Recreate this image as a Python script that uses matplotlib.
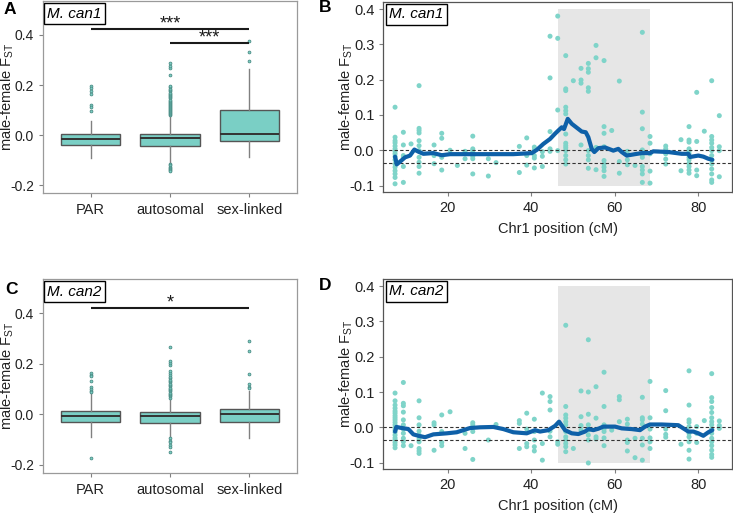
import numpy as np
import matplotlib
matplotlib.use("Agg")
import matplotlib.pyplot as plt
from matplotlib.patches import Rectangle

plt.rcParams["font.family"] = ["Liberation Sans", "DejaVu Sans"]
plt.rcParams["mathtext.default"] = "regular"

# ── colours ───────────────────────────────────────────────────────────────
BOX_FILL  = "#7acfc5"
BOX_EDGE  = "#555555"
WHISK_CLR = "#808080"
FLIER_EC  = "#4b8c85"
PT_CLR    = "#7fd4c9"
LINE_CLR  = "#0e60a8"
SHADE_CLR = "#e6e6e6"
TXT_CLR   = "#222222"

# ── box plot data (male-female Fst per class) ─────────────────────────────
categories = ["PAR", "autosomal", "sex-linked"]

can1_q1     = [-0.041, -0.042, -0.0225]
can1_med    = [-0.0146, -0.013, 0.003]
can1_q3     = [0.003, 0.004, 0.099]
can1_whislo = [-0.093, -0.111, -0.087]
can1_whishi = [0.058, 0.078, 0.265]
can1_fliers = [
    [0.196, 0.187, 0.177, 0.163, 0.120, 0.114, 0.097],
    [0.081, 0.085, 0.089, 0.093, 0.097, 0.101, 0.105, 0.109, 0.113, 0.117,
     0.121, 0.125, 0.130, 0.134, 0.138, 0.142, 0.147, 0.151, 0.155, 0.160,
     0.165, 0.170, 0.175, 0.180, 0.186, 0.192, 0.198, 0.240, 0.266, 0.277,
     0.286, -0.114, -0.120, -0.125, -0.130, -0.134, -0.139, -0.144],
    [0.376, 0.332, 0.295],
]

can2_q1     = [-0.032, -0.034, -0.029]
can2_med    = [-0.0066, -0.008, 0.0]
can2_q3     = [0.012, 0.008, 0.020]
can2_whislo = [-0.089, -0.093, -0.095]
can2_whishi = [0.083, 0.064, 0.094]
can2_fliers = [
    [0.162, 0.156, 0.150, 0.130, 0.108, 0.100, 0.092, 0.087, -0.171],
    [0.066, 0.071, 0.076, 0.081, 0.086, 0.091, 0.096, 0.101, 0.106, 0.111,
     0.116, 0.121, 0.126, 0.131, 0.136, 0.142, 0.148, 0.155, 0.162, 0.170,
     0.196, 0.203, 0.212, 0.266,
     -0.095, -0.105, -0.111, -0.122, -0.131, -0.148],
    [0.291, 0.249, 0.159, 0.119, 0.110, 0.103],
]

# significance brackets: (from, to, height, label)
can1_sig = [(1, 3, 0.425, "***"), (2, 3, 0.368, "***")]
can2_sig = [(1, 3, 0.421, "*")]

# ── Chr1 scan data: marker columns (cM) and Fst values per column ─────────
can1_pos = [7.38, 9.37, 11.21, 13.13, 16.72, 18.56, 20.55, 22.30, 24.14, 25.99,
            29.72, 31.56, 37.14, 38.91, 40.73, 42.65, 44.49, 46.33, 48.25, 50.07,
            51.91, 53.66, 55.50, 57.42, 59.26, 61.08, 63.00, 64.84, 66.59, 68.43,
            72.19, 75.85, 77.77, 79.61, 81.43, 83.20, 85.02]
can1_vals = [
    [0.122, 0.037, 0.027, 0.021, 0.012, 0.004, -0.003, -0.010, -0.018, -0.027,
     -0.039, -0.048, -0.058, -0.067, -0.077, -0.095],
    [0.051, 0.015, -0.015, -0.020, -0.046, -0.091],
    [0.018],
    [0.183, 0.062, 0.056, 0.049, 0.027, 0.013, -0.001, -0.020, -0.034, -0.046, -0.065],
    [0.015, -0.015, -0.038],
    [0.048, 0.034, -0.020, -0.056],
    [0.0],
    [-0.043],
    [-0.003, -0.024],
    [0.040, 0.004, -0.001, -0.008, -0.017, -0.024, -0.067],
    [-0.024, -0.073],
    [-0.035],
    [0.011, -0.063],
    [0.035, -0.015, -0.042],
    [0.009, 0.002, -0.015, -0.022, -0.050],
    [-0.004, -0.017, -0.046],
    [0.323, 0.205, 0.053, 0.004, -0.003],
    [0.380, 0.317, 0.114, -0.001],
    [0.268, 0.174, 0.169, 0.122, 0.112, 0.103, 0.046, 0.020, 0.013, 0.007,
     -0.001, -0.015, -0.027, -0.039],
    [0.197],
    [0.232, 0.199, 0.190, 0.015],
    [0.246, 0.231, 0.221, 0.177, 0.167, -0.001, -0.015, -0.027, -0.051],
    [0.297, 0.262, 0.008, -0.055],
    [0.254, 0.067, 0.048, 0.010, -0.029, -0.039, -0.048, -0.058, -0.074],
    [0.056],
    [0.196, -0.032, -0.065],
    [-0.003, -0.012, -0.027, -0.041],
    [-0.043],
    [0.334, 0.108, 0.061, 0.001, -0.012, -0.020, -0.046, -0.056, -0.067, -0.091],
    [0.039, 0.020, -0.010, -0.059, -0.093],
    [0.012, 0.004, -0.010, -0.025, -0.039],
    [0.030, -0.058],
    [0.067, 0.029, 0.023, 0.004, -0.003, -0.010, -0.020, -0.027, -0.037, -0.046,
     -0.056, -0.065],
    [0.164, 0.025, -0.056, -0.072],
    [0.054],
    [0.197, 0.039, 0.029, 0.020, 0.008, -0.001, -0.015, -0.027, -0.039, -0.053,
     -0.067, -0.084, -0.091],
    [0.098, 0.010, -0.001, -0.075],
]

can2_pos = [7.38, 9.37, 11.21, 13.13, 16.72, 18.56, 20.55, 24.14, 25.99, 29.72,
            31.56, 37.14, 38.91, 40.73, 42.65, 44.49, 46.33, 48.25, 50.07, 51.91,
            53.66, 55.50, 57.42, 59.26, 61.08, 63.00, 64.84, 66.59, 68.43, 72.19,
            75.85, 77.77, 79.61, 81.43, 83.20, 85.02]
can2_vals = [
    [0.097, 0.075, 0.063, 0.054, 0.046, 0.040, 0.033, 0.027, 0.021, 0.014,
     0.007, -0.001, -0.008, -0.014, -0.022, -0.030, -0.036, -0.043, -0.050, -0.058],
    [0.127, 0.068, 0.061, 0.043, 0.021, 0.007, -0.005, -0.017, -0.031, -0.041, -0.052],
    [-0.052],
    [0.075, 0.027, 0.007, -0.011, -0.022, -0.033, -0.041, -0.060, -0.067, -0.074],
    [0.013, 0.007, -0.065],
    [0.035, -0.012, -0.043, -0.052],
    [0.044],
    [-0.017, -0.060],
    [0.013, 0.007, -0.001, -0.012, -0.091],
    [-0.036],
    [0.008],
    [0.019, 0.011, -0.060],
    [0.040, -0.005, -0.046, -0.055],
    [0.023, -0.012, -0.036, -0.055, -0.067],
    [0.097, -0.046, -0.093],
    [0.087, 0.073, 0.049, -0.011, -0.027],
    [-0.041, -0.048],
    [0.289, 0.059, 0.035, 0.026, 0.016, 0.007, -0.012, -0.027, -0.036, -0.046,
     -0.055, -0.069],
    [-0.060],
    [0.103, 0.030, 0.005, -0.008],
    [0.248, 0.100, 0.037, 0.007, -0.008, -0.022, -0.036, -0.101],
    [0.115, 0.026, -0.027, -0.033],
    [0.156, 0.059, 0.007, -0.005, -0.012, -0.030, -0.052],
    [-0.008],
    [0.087, 0.078, 0.016],
    [0.023, 0.009, -0.036, -0.043, -0.067],
    [-0.031, -0.086],
    [0.085, 0.027, 0.021, 0.009, -0.031, -0.050, -0.093],
    [0.130, 0.027, -0.005, -0.030, -0.041, -0.060],
    [0.104, 0.047, -0.005, -0.020, -0.028],
    [-0.048],
    [0.160, 0.063, 0.021, 0.014, 0.002, -0.017, -0.027, -0.041, -0.065, -0.090],
    [0.002, -0.017, -0.043],
    [0.019],
    [0.152, 0.084, 0.073, 0.056, 0.042, 0.027, 0.016, 0.007, -0.005, -0.017,
     -0.031, -0.041, -0.052, -0.065, -0.077, -0.085],
    [0.018, 0.005, -0.003],
]

# sliding-window mean
can1_smooth_x = [7.38, 7.79, 8.89, 9.78, 10.97, 12.0, 12.96, 14.16, 16.55, 18.56,
                 20.55, 23.73, 27.73, 35.70, 40.11, 41.31, 42.89, 44.49, 45.69, 46.48,
                 47.29, 47.84, 48.73, 49.69, 50.88, 52.08, 53.04, 53.66, 54.47, 55.10,
                 56.05, 57.66, 59.65, 60.84, 61.66, 62.85, 64.84, 66.44, 68.43, 69.22,
                 72.81, 76.02, 77.60, 78.01, 79.99, 81.19, 82.39, 83.35]
can1_smooth_y = [-0.018, -0.040, -0.029, -0.020, -0.015, 0.002, -0.004, -0.010, -0.008, -0.014,
                 -0.011, -0.011, -0.011, -0.011, -0.008, 0.001, 0.018, 0.032, 0.047, 0.056,
                 0.065, 0.060, 0.089, 0.075, 0.064, 0.053, 0.051, 0.037, 0.004, -0.005,
                 0.006, 0.008, -0.001, 0.004, -0.005, -0.015, -0.011, -0.008, -0.008, -0.003,
                 -0.005, -0.010, -0.010, -0.019, -0.015, -0.018, -0.024, -0.027]
can2_smooth_x = [7.38, 7.69, 8.99, 10.57, 11.76, 12.96, 14.57, 16.55, 19.76, 22.15,
                 25.34, 27.73, 30.92, 33.31, 35.70, 38.91, 40.90, 42.10, 44.08, 45.69,
                 46.65, 48.08, 49.69, 51.27, 52.87, 53.66, 54.86, 56.05, 57.25, 60.05,
                 61.66, 64.05, 66.04, 67.24, 68.43, 71.23, 75.21, 76.40, 77.60, 78.80,
                 79.99, 81.19, 82.39, 83.35]
can2_smooth_y = [-0.012, 0.001, -0.002, -0.005, -0.020, -0.024, -0.028, -0.020, -0.017, -0.014,
                 -0.002, 0.000, 0.001, -0.005, -0.014, -0.017, -0.008, -0.012, -0.008, 0.004,
                 0.016, -0.008, -0.017, -0.019, -0.012, -0.005, -0.008, -0.004, 0.002, 0.002,
                 -0.003, -0.005, -0.008, 0.002, 0.008, 0.008, 0.006, -0.003, -0.012, -0.012,
                 -0.017, -0.024, -0.014, -0.008]

# sex-linked region and reference lines
REGION_CM  = (46.3, 68.4)
REGION_FST = (-0.1, 0.4)
REF_LINES  = [0.0, -0.036]


# ── helpers ───────────────────────────────────────────────────────────────
def style_frame(ax, clr):
    for sp in ax.spines.values():
        sp.set_color(clr)
        sp.set_linewidth(0.9)
    ax.tick_params(colors=WHISK_CLR, labelcolor=TXT_CLR, length=3, width=0.8)


def species_tag(ax, name):
    ax.text(0.016, 0.935, name, transform=ax.transAxes, ha="left", va="center",
            fontsize=11, style="italic", color="black", zorder=10,
            bbox=dict(boxstyle="square,pad=0.22", fc="white", ec="black", lw=1.0))


def draw_box(ax, q1, med, q3, lo, hi, fliers, sig, name):
    stats = []
    for i in range(len(categories)):
        stats.append(dict(q1=q1[i], med=med[i], q3=q3[i], whislo=lo[i],
                          whishi=hi[i], fliers=fliers[i], label=categories[i]))
    ax.bxp(stats, positions=[1, 2, 3], widths=0.75, patch_artist=True,
           showcaps=False,
           boxprops=dict(facecolor=BOX_FILL, edgecolor=BOX_EDGE, lw=1.0),
           medianprops=dict(color="#333333", lw=1.4),
           whiskerprops=dict(color=WHISK_CLR, lw=1.0),
           flierprops=dict(marker="o", markersize=2.0, markerfacecolor=BOX_FILL,
                           markeredgecolor=FLIER_EC, markeredgewidth=0.6))
    for x0, x1, h, lab in sig:
        ax.plot([x0, x1], [h, h], color="#1a1a1a", lw=1.5, solid_capstyle="butt")
        ax.text((x0 + x1) / 2, h - 0.014, lab, ha="center", va="bottom",
                fontsize=13, color="#1a1a1a")
    ax.set_xlim(0.4, 3.6)
    ax.set_ylim(-0.232, 0.535)
    ax.set_yticks([-0.2, 0.0, 0.2, 0.4])
    ax.set_yticklabels(["-0.2", "0.0", "0.2", "0.4"], fontsize=10)
    ax.tick_params(axis="x", labelsize=10.5, length=0, pad=4)
    ax.set_ylabel("male-female F$_{ST}$", fontsize=10.5, color=TXT_CLR)
    ax.yaxis.set_label_coords(-0.105, 0.5)
    style_frame(ax, "#9a9a9a")
    species_tag(ax, name)


def draw_scan(ax, pos, vals, sx, sy, name):
    xs = np.concatenate([np.full(len(v), p) for p, v in zip(pos, vals)])
    ys = np.concatenate([np.array(v) for v in vals])
    ax.add_patch(Rectangle((REGION_CM[0], REGION_FST[0]), REGION_CM[1] - REGION_CM[0],
                           REGION_FST[1] - REGION_FST[0], fc=SHADE_CLR, ec="none", zorder=0))
    ax.scatter(xs, ys, s=13, color=PT_CLR, edgecolors="none", zorder=2)
    for r in REF_LINES:
        ax.axhline(r, color="#333333", lw=0.8, ls=(0, (3, 2)), zorder=3)
    ax.plot(sx, sy, color=LINE_CLR, lw=3.0, solid_capstyle="round",
            solid_joinstyle="round", zorder=4)
    ax.set_xlim(4.58, 88.0)
    ax.set_ylim(-0.119, 0.42)
    ax.set_xticks([20, 40, 60, 80])
    ax.set_yticks([-0.1, 0.0, 0.1, 0.2, 0.3, 0.4])
    ax.set_yticklabels(["-0.1", "0.0", "0.1", "0.2", "0.3", "0.4"])
    ax.tick_params(labelsize=10.5)
    ax.set_xlabel("Chr1 position (cM)", fontsize=10.5, color=TXT_CLR, labelpad=5)
    ax.set_ylabel("male-female F$_{ST}$", fontsize=10.5, color=TXT_CLR)
    ax.yaxis.set_label_coords(-0.08, 0.5)
    style_frame(ax, "#555555")
    species_tag(ax, name)


# ── figure ────────────────────────────────────────────────────────────────
fig = plt.figure(figsize=(7.33, 5.19), dpi=100, facecolor="white")

axA = fig.add_axes([0.0587, 0.6275, 0.3465, 0.3705])
axB = fig.add_axes([0.5230, 0.6295, 0.4753, 0.3667])
axC = fig.add_axes([0.0587, 0.0886, 0.3465, 0.3738])
axD = fig.add_axes([0.5230, 0.0957, 0.4753, 0.3667])

draw_box(axA, can1_q1, can1_med, can1_q3, can1_whislo, can1_whishi, can1_fliers,
         can1_sig, "M. can1")
draw_box(axC, can2_q1, can2_med, can2_q3, can2_whislo, can2_whishi, can2_fliers,
         can2_sig, "M. can2")
draw_scan(axB, can1_pos, can1_vals, can1_smooth_x, can1_smooth_y, "M. can1")
draw_scan(axD, can2_pos, can2_vals, can2_smooth_x, can2_smooth_y, "M. can2")

for lab, (px, py) in zip("ABCD", [(10, 9), (325, 8), (12, 289), (325, 285)]):
    fig.text(px / 733, 1 - py / 519, lab, ha="center", va="center",
             fontsize=12.5, fontweight="bold", color="black")

fig.savefig("out.png", dpi=100)
